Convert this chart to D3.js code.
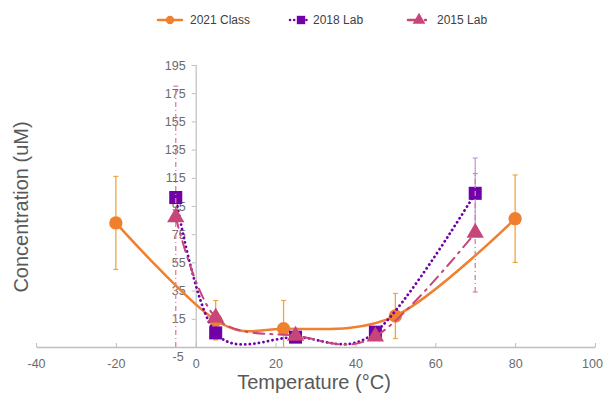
<html>
<head>
<script src="https://cdnjs.cloudflare.com/ajax/libs/d3/7.8.5/d3.min.js"></script>
<style>
  body { margin: 0; background: #fff; }
  text { font-family: "Liberation Sans", Arial, sans-serif; }
</style>
</head>
<body>
<div id="chart"></div>
<script>
// values
var classX = [-20, 5, 22, 50, 80]
var classY = [83, 14, 8, 17, 86]
var classErr = [33, 14, 20, 16, 31]

var lab18X = [-5, 5, 25, 45, 70]
var lab18Y = [101, 5, 2, 5.5, 104]
var lab18Err = [0, 0, 0, 0, 25]

var lab15X = [-5, 5, 25, 45, 70]
var lab15Y = [87, 16, 3, 2.5, 76]
var lab15Err = [93, 0, 0, 0, 42]

var xTicks = [-40, -20, 0, 20, 40, 60, 80, 100]
var yTicks = [-5, 15, 35, 55, 75, 95, 115, 135, 155, 175, 195]

var width = 604, height = 394

var svg = d3.select("#chart").append("svg")
  .attr("width", width)
  .attr("height", height)

var x = d3.scaleLinear().domain([-40, 100]).range([36, 595])
var y = d3.scaleLinear().domain([-5, 195]).range([347, 65])

// plain hyphen for negatives, like the original
var fmt = function(d){ return String(d) }

// x axis (crosses at y = -5)
var xAxis = d3.axisBottom(x).tickValues(xTicks).tickFormat(fmt).tickSizeInner(-4).tickSizeOuter(0).tickPadding(12)
var gx = svg.append("g").attr("transform", "translate(0," + y(-5) + ")").call(xAxis)
gx.select(".domain").attr("stroke", "#bfbfbf").attr("stroke-width", 1.5)
gx.selectAll(".tick line").attr("stroke", "#bfbfbf")
gx.selectAll(".tick text").attr("fill", "#6b6b6b").style("font-size", "12.5px")
gx.selectAll(".tick text").filter(function(d){ return d == 100 }).attr("dx", "-3")

// y axis at x = 0
var yAxis = d3.axisLeft(y).tickValues(yTicks).tickFormat(fmt).tickSizeInner(4).tickSizeOuter(4).tickPadding(6)
var gy = svg.append("g").attr("transform", "translate(" + x(0) + ",0)").call(yAxis)
gy.select(".domain").attr("stroke", "#bfbfbf").attr("stroke-width", 1.2)
gy.selectAll(".tick line").attr("stroke", "#bfbfbf")
gy.selectAll(".tick text").attr("fill", "#6b6b6b").style("font-size", "12.5px")
gy.selectAll(".tick text").filter(function(d){ return d == -5 }).attr("dy", "1.05em").attr("dx", "-2")

// axis titles
svg.append("text")
  .attr("x", 314).attr("y", 389)
  .attr("text-anchor", "middle")
  .attr("fill", "#595959")
  .style("font-size", "20px")
  .text("Temperature (°C)")

svg.append("text")
  .attr("transform", "translate(28,207) rotate(-90)")
  .attr("text-anchor", "middle")
  .attr("fill", "#595959")
  .style("font-size", "20px")
  .text("Concentration (uM)")

function pts(xs, ys, es) {
  return xs.map(function(d, i){ return {x: d, y: ys[i], e: es[i]} })
}

var series = [
  {name: "2021 Class", data: pts(classX, classY, classErr), color: "#f07f2e", err: "#f3a53c",
   dash: null, width: 2.5, errDash: null, shape: "circle"},
  {name: "2018 Lab", data: pts(lab18X, lab18Y, lab18Err), color: "#7000a8", err: "#c89bdd",
   dash: "0.1,4.5", width: 2.8, errDash: null, shape: "square"},
  {name: "2015 Lab", data: pts(lab15X, lab15Y, lab15Err), color: "#c8457a", err: "#e07ca3",
   dash: "11,6,2,6", width: 2, errDash: "5,3,1,3", shape: "triangle"}
]

var line = d3.line()
  .x(function(d){ return x(d.x) })
  .y(function(d){ return y(d.y) })
  .curve(d3.curveCardinal)

function symbolPath(shape, size) {
  var t = shape == "circle" ? d3.symbolCircle : shape == "square" ? d3.symbolSquare : d3.symbolTriangle
  return d3.symbol().type(t).size(size)()
}
var markerSize = {circle: 140, square: 170, triangle: 130}

series.forEach(function(s){
  // error bars
  var eb = s.data.filter(function(d){ return d.e > 0 })
  var g = svg.append("g")
  eb.forEach(function(d){
    var lo = Math.max(d.y - d.e, -5), hi = Math.min(d.y + d.e, 195)
    g.append("line")
      .attr("x1", x(d.x)).attr("x2", x(d.x))
      .attr("y1", y(lo)).attr("y2", y(hi))
      .attr("stroke", s.err).attr("stroke-width", 1.3)
      .attr("stroke-dasharray", s.errDash)
    ;[d.y - d.e, d.y + d.e].forEach(function(v){
      if (v < -5 || v > 195) return
      g.append("line")
        .attr("x1", x(d.x) - 2.5).attr("x2", x(d.x) + 2.5)
        .attr("y1", y(v)).attr("y2", y(v))
        .attr("stroke", s.err).attr("stroke-width", 1.2)
    })
  })

  svg.append("path")
    .datum(s.data)
    .attr("d", line)
    .attr("fill", "none")
    .attr("stroke", s.color)
    .attr("stroke-width", s.width)
    .attr("stroke-linecap", "round")
    .attr("stroke-dasharray", s.dash)

  svg.append("g").selectAll("path").data(s.data).enter().append("path")
    .attr("transform", function(d){ return "translate(" + x(d.x) + "," + y(d.y) + ")" })
    .attr("d", symbolPath(s.shape, markerSize[s.shape]))
    .attr("fill", s.color)
})

// legend
var legendX = [158, 290, 408]
var legend = svg.append("g")
series.forEach(function(s, i){
  var lx = legendX[i], ly = 20
  var lw = s.shape == "circle" ? 24 : 18
  legend.append("line")
    .attr("x1", lx).attr("x2", lx + lw)
    .attr("y1", ly).attr("y2", ly)
    .attr("stroke", s.color)
    .attr("stroke-width", 2.5)
    .attr("stroke-linecap", "round")
    .attr("stroke-dasharray", s.shape == "square" ? "0.1,4" : s.shape == "triangle" ? "7,4,2,4" : null)
  legend.append("path")
    .attr("transform", "translate(" + (lx + (s.shape == "circle" ? 12 : 11)) + "," + ly + ")")
    .attr("d", symbolPath(s.shape, s.shape == "circle" ? 55 : 70))
    .attr("fill", s.color)
  legend.append("text")
    .attr("x", lx + (s.shape == "circle" ? 32 : s.shape == "square" ? 23 : 29))
    .attr("y", ly + 4)
    .attr("fill", "#404040")
    .style("font-size", "12px")
    .text(s.name)
})
</script>
</body>
</html>
